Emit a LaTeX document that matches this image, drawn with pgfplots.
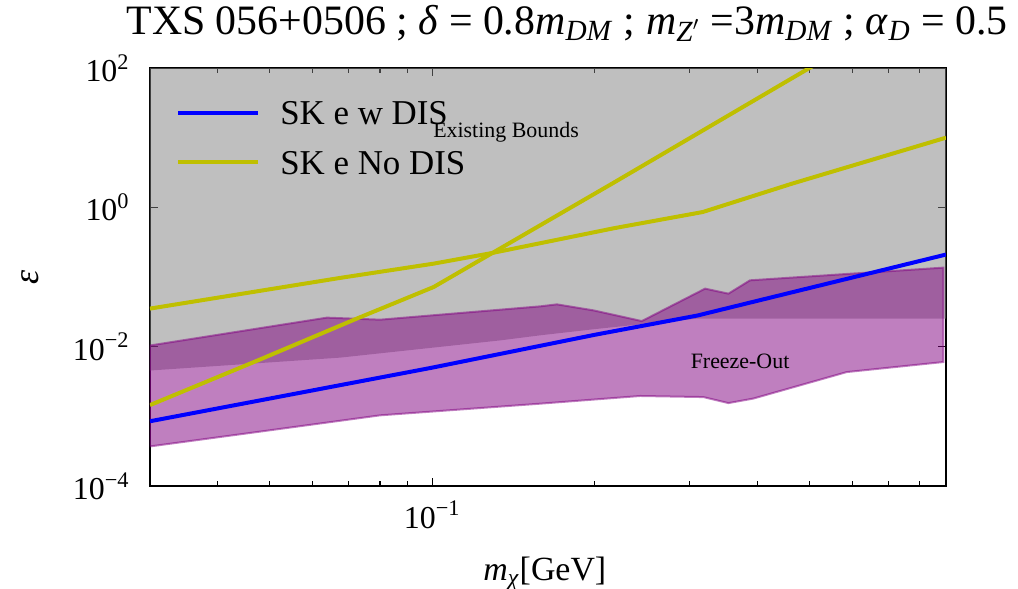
\documentclass[border=0pt]{standalone}
\usepackage{pgfplots}
\pgfplotsset{compat=1.18}
\usepackage{fontspec}
\setmainfont{Liberation Serif}
\definecolor{myblue}{RGB}{0,0,255}
\definecolor{myyellow}{RGB}{191,191,0}
\definecolor{mypurple}{RGB}{128,0,128}
\definecolor{mygray}{RGB}{128,128,128}
\begin{document}
\begin{tikzpicture}
\useasboundingbox (-75bp,-51.5bp) rectangle (434bp,243bp);
\begin{axis}[
  scale only axis, width=398bp, height=209bp,
  xmode=log, ymode=log,
  xmin=0.03, xmax=0.895, ymin=1e-4, ymax=1e2,
  xtick={0.1}, xticklabels={10\textsuperscript{−1}},
  minor xtick={0.04,0.05,0.06,0.07,0.08,0.09,0.2,0.3,0.4,0.5,0.6,0.7,0.8},
  ytick={1e-4,1e-2,1,1e2},
  yticklabels={10\textsuperscript{−4},10\textsuperscript{−2},10\textsuperscript{0},10\textsuperscript{2}},
  yminorticks=false,
  tick align=inside, major tick length=4bp, minor tick length=2.5bp,
  every tick/.style={black, line width=0.6bp},
  axis line style={black, line width=1bp},
  ticklabel style={font=\fontsize{16}{16}\selectfont},
  xticklabel style={anchor=base, yshift=-21bp, inner sep=0pt},
  yticklabel style={anchor=base east, xshift=-10bp, yshift=-6.8bp, inner sep=0pt},
  title={TXS 056+0506 ; \textit{δ} = 0.8\textit{m}\textsubscript{\textit{DM}} ; \textit{m}\textsubscript{\textit{Z}$'$} =3\textit{m}\textsubscript{\textit{DM}} ; \textit{α}\textsubscript{\textit{D}} = 0.5},
  title style={at={(0.5,1)}, anchor=base, yshift=11bp, xshift=9.5bp, inner sep=0pt, font=\fontsize{21}{21}\selectfont},
  xlabel={\textit{m}\textsubscript{\textit{χ}}[GeV]},
  xlabel style={at={(axis description cs:0.496,0)}, anchor=base, yshift=-47bp, inner sep=0pt, font=\fontsize{17}{17}\selectfont},
  ylabel={\textit{ε}},
  ylabel style={at={(axis description cs:-0.151,0.5)}, anchor=center, inner sep=0pt, font=\fontsize{18}{18}\selectfont},
  legend style={draw=none, fill=none, at={(axis description cs:0.0251,0.932)}, anchor=north west,
    font=\fontsize{17.5}{17.5}\selectfont, row sep=12.75bp, column sep=10bp,
    nodes={inner sep=0pt, text height=12bp, text depth=0pt}},
  legend cell align=left,
  legend image code/.code={\draw[#1] (0bp,0bp) -- (40bp,0bp);},
]
% Existing bounds (gray)
\addplot[forget plot, draw=none, fill=mygray, fill opacity=0.5] coordinates {
  (0.029,1000) (0.029,4.4e-3) (0.0303,4.57e-3) (0.0675,6.96e-3) (0.1,9.66e-3)
  (0.1336,0.0123) (0.1585,0.01455) (0.2,0.01786) (0.2428,0.0209) (0.31,0.0253)
  (0.91,0.0253) (0.91,1000)} -- cycle;
% Freeze-out band (purple)
\addplot[forget plot, draw=mypurple, draw opacity=0.5, line width=1bp, fill=mypurple, fill opacity=0.5] coordinates {
  (0.03,0.0104) (0.0638,0.0261) (0.0801,0.0244) (0.1585,0.0379) (0.1702,0.0405)
  (0.199,0.0332) (0.2445,0.0233) (0.3203,0.0681) (0.3538,0.0577) (0.388,0.0896)
  (0.885,0.1363)
  (0.885,6.02e-3) (0.5861,4.32e-3) (0.3936,1.80e-3) (0.3538,1.55e-3) (0.318,1.89e-3)
  (0.2428,1.96e-3) (0.1585,1.52e-3) (0.0801,1.034e-3) (0.0474,5.96e-4) (0.03,3.7e-4)} -- cycle;
% SK e w DIS
\addplot[myblue, line width=2bp] coordinates {
  (0.03,8.5e-4) (0.05,1.8e-3) (0.1,5.0e-3) (0.2,0.0148) (0.31,0.028) (0.5,0.0695) (0.895,0.21)};
\addlegendentry{SK e w DIS}
% SK e No DIS (steep)
\addplot[myyellow, line width=2bp] coordinates {
  (0.03,1.45e-3) (0.0474,6.3e-3) (0.0725,0.0253) (0.1006,0.0718) (0.2167,2.25) (0.54,142)};
\addlegendentry{SK e No DIS}
% SK e No DIS (shallow)
\addplot[forget plot, myyellow, line width=2bp] coordinates {
  (0.03,0.0352) (0.0675,0.097) (0.1006,0.1555) (0.129,0.2208) (0.2167,0.50)
  (0.317,0.856) (0.4643,2.19) (0.895,10.0)};
\node[anchor=base, font=\fontsize{11}{11}\selectfont] at (axis cs:0.137,10.1) {Existing Bounds};
\node[anchor=base, font=\fontsize{11}{11}\selectfont] at (axis cs:0.3718,4.84e-3) {Freeze-Out};
\end{axis}
\end{tikzpicture}
\end{document}
